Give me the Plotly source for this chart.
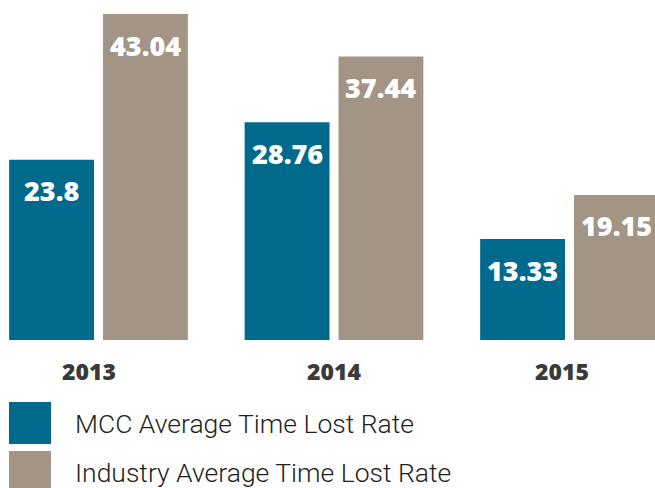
import plotly.graph_objects as go

years = ["2013", "2014", "2015"]
mcc = [23.8, 28.76, 13.33]
industry = [43.04, 37.44, 19.15]
series_names = ["MCC Average Time Lost Rate", "Industry Average Time Lost Rate"]
colors = ["#006A8D", "#A29585"]

W, H = 655, 488
plot_h = 340
x_idx = list(range(len(years)))

fig = go.Figure()
for vals, name, col in zip([mcc, industry], series_names, colors):
    fig.add_trace(go.Bar(x=x_idx, y=vals, name=name, marker=dict(color=col, line=dict(width=0)),
                         showlegend=False, hoverinfo="skip"))

bargap = 0.203
slot = (1 - bargap) / 2
offsets = [-slot / 2, slot / 2]

ann = []
value_font = dict(family="Open Sans", size=27, color="white", weight=800)
for vals, off in zip([mcc, industry], offsets):
    for i, v in enumerate(vals):
        ann.append(dict(x=i + off, y=v, xref="x", yref="y", text=f"{v:g}", showarrow=False,
                        yanchor="middle", yshift=-31, font=value_font))

year_shift = [-10, 0, -8]
for i, yr in enumerate(years):
    ann.append(dict(x=i, y=(plot_h - 371) / plot_h, xref="x", yref="paper", text=yr, showarrow=False,
                    xshift=year_shift[i], yanchor="middle",
                    font=dict(family="Open Sans", size=23, color="#3A3A3A", weight=800)))

shapes = []
legend_y = [423, 472]
for name, col, cy in zip(series_names, colors, legend_y):
    shapes.append(dict(type="rect", xref="paper", yref="paper",
                       x0=9 / W, x1=51 / W, y0=(plot_h - (cy - 21)) / plot_h, y1=(plot_h - (cy + 21)) / plot_h,
                       fillcolor=col, line=dict(width=0)))
    ann.append(dict(x=73 / W, y=(plot_h - cy) / plot_h, xref="paper", yref="paper", text=name,
                    showarrow=False, xanchor="left", yanchor="middle",
                    font=dict(family="Roboto", size=26.5, color="#1E1E1E", weight=300)))

unit = 235.5
fig.update_layout(
    width=W, height=H,
    margin=dict(l=0, r=0, t=0, b=H - plot_h, pad=0),
    paper_bgcolor="white", plot_bgcolor="white",
    barmode="group", bargap=bargap, bargroupgap=0.0957,
    xaxis=dict(range=[-98.5 / unit, -98.5 / unit + W / unit], showticklabels=False, showgrid=False,
               zeroline=False, showline=False, ticks=""),
    yaxis=dict(range=[0, 44.89], showticklabels=False, showgrid=False, zeroline=False,
               showline=False, ticks=""),
    annotations=ann, shapes=shapes,
)
fig.write_html("out.html", config={"displayModeBar": False},
               post_script="document.body.style.margin='0';document.body.style.overflow='hidden';")
